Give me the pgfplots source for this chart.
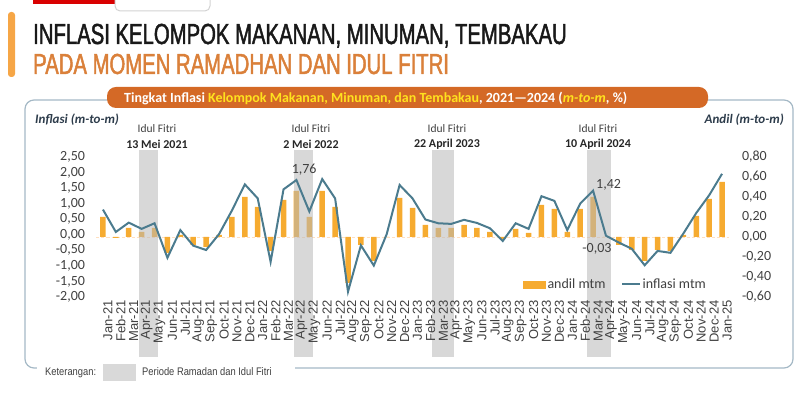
\documentclass[border=0pt]{standalone}
\usepackage{pgfplots}
\usepackage{pgfplotstable}
\pgfplotsset{compat=1.18}
\usepackage{fontspec}
\setmainfont{Carlito}
\newfontfamily\arialf{Liberation Sans}
\newfontfamily\condf[FakeStretch=0.70, FakeBold=1.6]{Liberation Sans}
\newfontfamily\narrowf[FakeStretch=0.85]{Liberation Sans}

\definecolor{barcol}{RGB}{246,171,48}
\definecolor{linecol}{RGB}{75,123,142}
\definecolor{textgray}{RGB}{64,64,64}
\definecolor{titleorange}{RGB}{218,128,58}
\definecolor{sidebar}{RGB}{246,166,70}
\definecolor{bannercol}{RGB}{212,105,38}
\definecolor{bannery}{RGB}{255,226,30}
\definecolor{framecol}{RGB}{165,185,198}
\definecolor{axtitle}{RGB}{45,60,75}
\definecolor{bandgray}{RGB}{184,184,184}

\pgfplotstableread{
i inf andil
0 0.81 0.20
1 0.09 -0.01
2 0.39 0.09
3 0.19 0.05
4 0.37 0.09
5 -0.74 -0.16
6 0.15 0.02
7 -0.35 -0.08
8 -0.49 -0.10
9 0.02 0.02
10 0.78 0.20
11 1.62 0.40
12 1.17 0.30
13 -0.87 -0.14
14 1.46 0.37
15 1.76 0.46
16 0.75 0.20
17 1.79 0.46
18 1.17 0.30
19 -1.83 -0.46
20 -0.34 -0.08
21 -0.99 -0.24
22 0.02 0.00
23 1.60 0.39
24 1.17 0.29
25 0.49 0.12
26 0.37 0.09
27 0.35 0.09
28 0.48 0.12
29 0.38 0.09
30 0.21 0.05
31 -0.20 -0.02
32 0.37 0.08
33 0.19 0.04
34 1.24 0.32
35 1.09 0.28
36 0.15 0.05
37 1.00 0.28
38 1.42 0.40
39 -0.03 0.00
40 -0.25 -0.08
41 -0.45 -0.13
42 -0.98 -0.24
43 -0.52 -0.13
44 -0.58 -0.14
45 0.04 0.02
46 0.70 0.21
47 1.27 0.38
48 1.96 0.55
}\datatable

\begin{document}
\begin{tikzpicture}[x=1pt,y=1pt]
\useasboundingbox (0,0) rectangle (807,395);
% header decorations
\fill[sidebar, rounded corners=3] (8,318) rectangle (15,383);
\fill[red!85!black] (33,391) rectangle (115,395);
\draw[gray!35, line width=1, rounded corners=5] (115,397) -- (115,384) -- (210,384) -- (210,397);
\node[anchor=base west, inner sep=0, font=\condf\fontsize{29}{29}\selectfont, text=black!90] at (33,351) {INFLASI KELOMPOK MAKANAN, MINUMAN, TEMBAKAU};
\node[anchor=base west, inner sep=0, font=\condf\fontsize{29}{29}\selectfont, text=titleorange] at (33,321) {PADA MOMEN RAMADHAN DAN IDUL FITRI};
% frame
\draw[framecol, line width=1.2, rounded corners=9] (25,27) rectangle (793,295);
\fill[white] (37,20) rectangle (295,34);
% banner
\fill[bannercol, rounded corners=9] (107,287) rectangle (708,308);
\node[anchor=base west, inner sep=0, text=white, font=\bfseries\fontsize{14}{14}\selectfont] at (124,292) {Tingkat Inflasi \textcolor{bannery}{Kelompok Makanan, Minuman, dan Tembakau}, 2021—2024 (\textcolor{bannery}{\textit{m-to-m}}, \%)};
% axis titles
\node[anchor=base west, inner sep=0, font=\bfseries\itshape\fontsize{13}{13}\selectfont, text=axtitle] at (35,271) {Inflasi (m-to-m)};
\node[anchor=base east, inner sep=0, font=\bfseries\itshape\fontsize{13}{13}\selectfont, text=axtitle] at (784,271) {Andil (m-to-m)};

% bar axis (right)
\begin{axis}[at={(96.5pt,98pt)}, anchor=south west, width=632pt, height=140pt, scale only axis,
  xmin=-0.5, xmax=48.5, ymin=-0.6, ymax=0.8, clip=false, axis on top,
  axis line style={draw=none}, major tick length=0pt,
  yticklabel pos=right,
  ytick={-0.6,-0.4,-0.2,0,0.2,0.4,0.6,0.8},
  yticklabels={{-0,60},{-0,40},{-0,20},{0,00},{0,20},{0,40},{0,60},{0,80}},
  yticklabel style={font=\fontsize{14}{14}\selectfont, text=textgray, xshift=10pt},
  xtick={0,...,48},
  xticklabels={Jan-21,Feb-21,Mar-21,Apr-21,May-21,Jun-21,Jul-21,Aug-21,Sep-21,Oct-21,Nov-21,Dec-21,Jan-22,Feb-22,Mar-22,Apr-22,May-22,Jun-22,Jul-22,Aug-22,Sep-22,Oct-22,Nov-22,Dec-22,Jan-23,Feb-23,Mar-23,Apr-23,May-23,Jun-23,Jul-23,Aug-23,Sep-23,Oct-23,Nov-23,Dec-23,Jan-24,Feb-24,Mar-24,Apr-24,May-24,Jun-24,Jul-24,Aug-24,Sep-24,Oct-24,Nov-24,Dec-24,Jan-25},
  xticklabel style={font=\arialf\fontsize{13}{13}\selectfont, text=textgray, rotate=90, anchor=east, yshift=-5pt},
]
\draw[densely dashed, color=orange!25] (axis cs:-0.5,0) -- (axis cs:48.5,0);
\addplot[ybar, bar width=5.5pt, fill=barcol, draw=none] table[x=i, y=andil] {\datatable};
\addplot[fill=bandgray, fill opacity=0.55, draw=none] coordinates {(2.8,-1.20) (4.3,-1.20) (4.3,0.87) (2.8,0.87)} -- cycle;
\addplot[fill=bandgray, fill opacity=0.55, draw=none] coordinates {(14.8,-1.20) (16.25,-1.20) (16.25,0.87) (14.8,0.87)} -- cycle;
\addplot[fill=bandgray, fill opacity=0.55, draw=none] coordinates {(25.5,-1.20) (27.2,-1.20) (27.2,0.87) (25.5,0.87)} -- cycle;
\addplot[fill=bandgray, fill opacity=0.55, draw=none] coordinates {(37.5,-1.20) (39.4,-1.20) (39.4,0.87) (37.5,0.87)} -- cycle;
\end{axis}

% line axis (left)
\begin{axis}[at={(96.5pt,98pt)}, anchor=south west, width=632pt, height=140pt, scale only axis,
  xmin=-0.5, xmax=48.5, ymin=-2, ymax=2.5, clip=false,
  axis line style={draw=none}, major tick length=0pt,
  xtick=\empty,
  ytick={-2,-1.5,-1,-0.5,0,0.5,1,1.5,2,2.5},
  yticklabels={{-2,00},{-1,50},{-1,00},{-0,50},{0,00},{0,50},{1,00},{1,50},{2,00},{2,50}},
  yticklabel style={font=\fontsize{14}{14}\selectfont, text=textgray, xshift=-8pt},
  legend columns=2,
  legend style={draw=none, fill=none, at={(0.67,0.09)}, anchor=west, font=\fontsize{14}{14}\selectfont, text=textgray,
    /tikz/every even column/.append style={column sep=14pt}},
]
\addlegendimage{legend image code/.code={\fill[barcol] (0pt,-3.5pt) rectangle (22pt,3.5pt);}}
\addlegendentry{andil mtm}
\addplot[linecol, line width=2pt, mark=none] table[x=i, y=inf] {\datatable};
\addlegendentry{inflasi mtm}
\node[font=\fontsize{14}{14}\selectfont, text=textgray] at (axis cs:15.6,2.09) {1,76};
\node[font=\fontsize{14}{14}\selectfont, text=textgray] at (axis cs:39.2,1.61) {1,42};
\node[font=\fontsize{14}{14}\selectfont, text=textgray] at (axis cs:38.3,-0.45) {-0,03};
\end{axis}

% Idul Fitri labels
\foreach \xx/\dd in {157/13 Mei 2021, 311/2 Mei 2022, 447/22 April 2023, 598/10 April 2024}{
  \node[font=\fontsize{11.5}{11.5}\selectfont, text=textgray] at (\xx,266) {Idul Fitri};
  \node[font=\bfseries\fontsize{12}{12}\selectfont, text=black!85] at (\xx,251) {\dd};
}
% footer legend
\node[anchor=base west, inner sep=0, font=\narrowf\fontsize{11}{11}\selectfont, text=textgray] at (45,19) {Keterangan:};
\fill[black!15] (103,14) rectangle (136,31);
\node[anchor=base west, inner sep=0, font=\narrowf\fontsize{11}{11}\selectfont, text=textgray] at (142,19) {Periode Ramadan dan Idul Fitri};
\end{tikzpicture}
\end{document}
